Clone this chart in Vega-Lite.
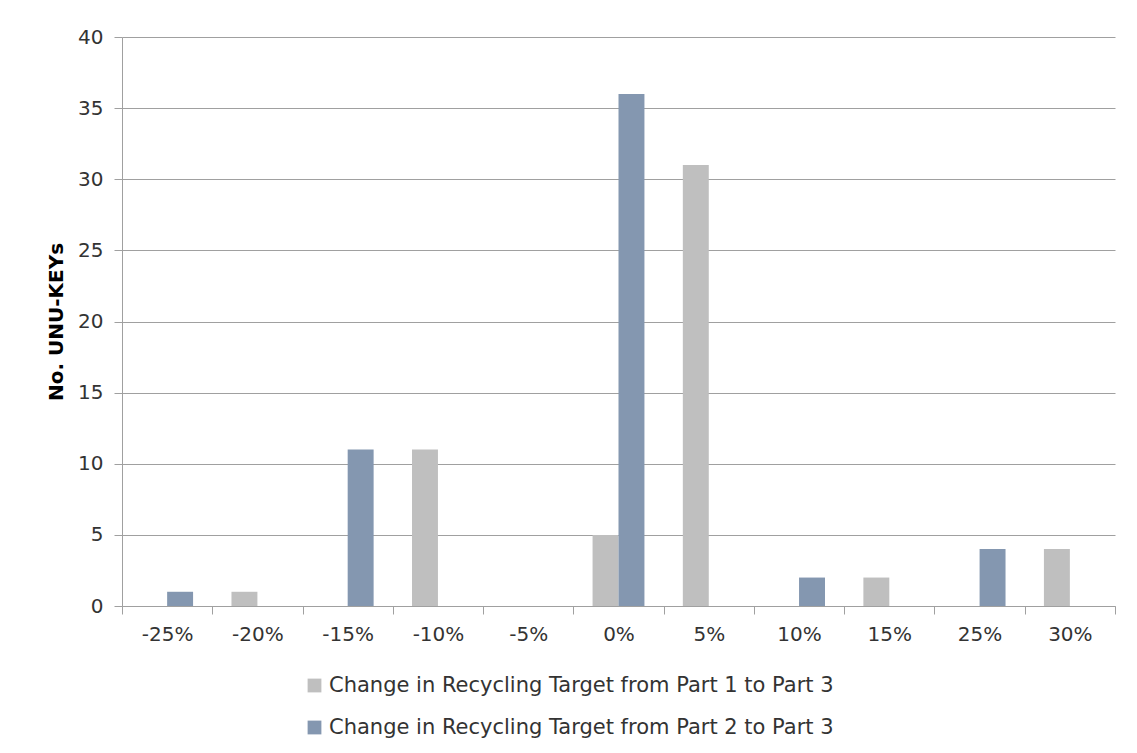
{
  "$schema": "https://vega.github.io/schema/vega-lite/v6.json",
  "width": 993,
  "height": 569,
  "autosize": {"type": "none"},
  "padding": {"left": 122, "top": 37, "right": 22, "bottom": 147},
  "background": "white",
  "config": {
    "font": "DejaVu Sans",
    "view": {"stroke": null},
    "axis": {"labelFont": "DejaVu Sans", "titleFont": "DejaVu Sans", "labelColor": "#333333", "titleColor": "#000000"}
  },
  "data": {
    "values": [
      {"change": "-25%", "series": "Change in Recycling Target from Part 1 to Part 3", "count": 0},
      {"change": "-25%", "series": "Change in Recycling Target from Part 2 to Part 3", "count": 1},
      {"change": "-20%", "series": "Change in Recycling Target from Part 1 to Part 3", "count": 1},
      {"change": "-20%", "series": "Change in Recycling Target from Part 2 to Part 3", "count": 0},
      {"change": "-15%", "series": "Change in Recycling Target from Part 1 to Part 3", "count": 0},
      {"change": "-15%", "series": "Change in Recycling Target from Part 2 to Part 3", "count": 11},
      {"change": "-10%", "series": "Change in Recycling Target from Part 1 to Part 3", "count": 11},
      {"change": "-10%", "series": "Change in Recycling Target from Part 2 to Part 3", "count": 0},
      {"change": "-5%", "series": "Change in Recycling Target from Part 1 to Part 3", "count": 0},
      {"change": "-5%", "series": "Change in Recycling Target from Part 2 to Part 3", "count": 0},
      {"change": "0%", "series": "Change in Recycling Target from Part 1 to Part 3", "count": 5},
      {"change": "0%", "series": "Change in Recycling Target from Part 2 to Part 3", "count": 36},
      {"change": "5%", "series": "Change in Recycling Target from Part 1 to Part 3", "count": 31},
      {"change": "5%", "series": "Change in Recycling Target from Part 2 to Part 3", "count": 0},
      {"change": "10%", "series": "Change in Recycling Target from Part 1 to Part 3", "count": 0},
      {"change": "10%", "series": "Change in Recycling Target from Part 2 to Part 3", "count": 2},
      {"change": "15%", "series": "Change in Recycling Target from Part 1 to Part 3", "count": 2},
      {"change": "15%", "series": "Change in Recycling Target from Part 2 to Part 3", "count": 0},
      {"change": "25%", "series": "Change in Recycling Target from Part 1 to Part 3", "count": 0},
      {"change": "25%", "series": "Change in Recycling Target from Part 2 to Part 3", "count": 4},
      {"change": "30%", "series": "Change in Recycling Target from Part 1 to Part 3", "count": 4},
      {"change": "30%", "series": "Change in Recycling Target from Part 2 to Part 3", "count": 0}
    ]
  },
  "mark": {"type": "bar"},
  "encoding": {
    "x": {
      "field": "change",
      "type": "nominal",
      "sort": ["-25%", "-20%", "-15%", "-10%", "-5%", "0%", "5%", "10%", "15%", "25%", "30%"],
      "scale": {"paddingInner": 0, "paddingOuter": 0},
      "axis": {
        "title": null,
        "labelAngle": 0,
        "labelFontSize": 20,
        "labelPadding": 10,
        "tickBand": "extent",
        "tickSize": 8,
        "tickColor": "#a0a0a0",
        "domainColor": "#a0a0a0",
        "grid": false
      }
    },
    "xOffset": {
      "field": "series",
      "type": "nominal",
      "sort": ["Change in Recycling Target from Part 1 to Part 3", "Change in Recycling Target from Part 2 to Part 3"],
      "scale": {"paddingInner": 0, "paddingOuter": 0.74}
    },
    "y": {
      "field": "count",
      "type": "quantitative",
      "scale": {"domain": [0, 40], "nice": false},
      "axis": {
        "title": "No. UNU-KEYs",
        "titleFontSize": 20,
        "titleFontWeight": "bold",
        "titlePadding": 11,
        "values": [0, 5, 10, 15, 20, 25, 30, 35, 40],
        "labelFontSize": 20,
        "labelPadding": 11,
        "tickSize": 8,
        "tickColor": "#a0a0a0",
        "domainColor": "#a0a0a0",
        "gridColor": "#a0a0a0",
        "grid": true
      }
    },
    "color": {
      "field": "series",
      "type": "nominal",
      "scale": {
        "domain": ["Change in Recycling Target from Part 1 to Part 3", "Change in Recycling Target from Part 2 to Part 3"],
        "range": ["#BFBFBF", "#8497B0"]
      },
      "legend": {
        "title": null,
        "orient": "none",
        "legendX": 182,
        "legendY": 638,
        "direction": "vertical",
        "symbolType": "square",
        "symbolSize": 190,
        "symbolStrokeWidth": 0,
        "labelFontSize": 21,
        "labelColor": "#333333",
        "labelOffset": 4,
        "rowPadding": 20,
        "labelLimit": 800
      }
    }
  }
}
